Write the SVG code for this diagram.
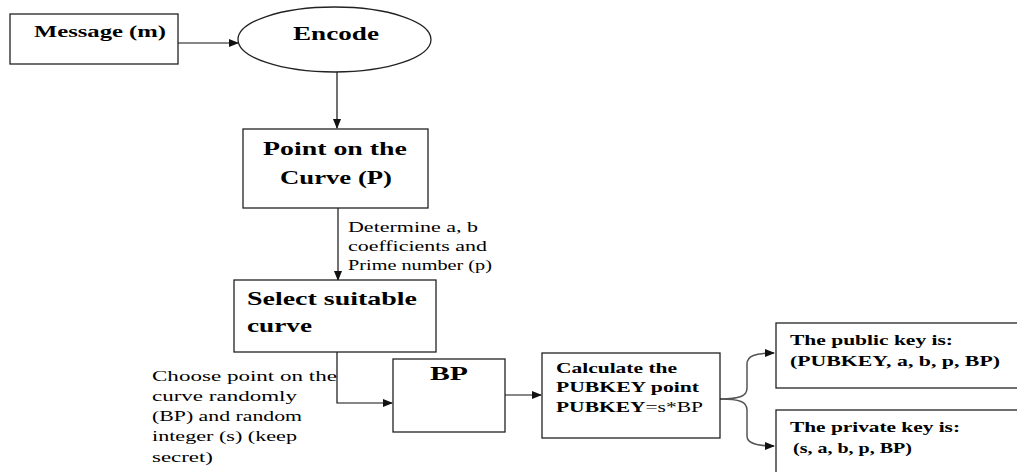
<svg xmlns="http://www.w3.org/2000/svg" width="1017" height="472" viewBox="0 0 1017 472">
<style>
.box{fill:#fff;stroke:#222;stroke-width:1.3}
text{font-family:'Liberation Serif','DejaVu Serif','Times New Roman',serif;fill:#000}
.b{font-weight:bold}
.big{font-size:19px}
.mid{font-size:15.5px}
.msg{font-size:16.5px}
.lab{font-size:15.5px}
.c{fill:none;stroke:#111;stroke-width:1.2}
.cg{fill:none;stroke:#555;stroke-width:1.5}
</style>
<defs>
<marker id="ah" markerWidth="10" markerHeight="8" refX="9" refY="4" orient="auto" markerUnits="userSpaceOnUse">
<path d="M0,0 L10,4 L0,8 Z" fill="#111"/>
</marker>
</defs>
<rect width="1017" height="472" fill="#fff"/>
<g id="connectors">
<line class="c" x1="178" y1="43" x2="238" y2="43" marker-end="url(#ah)"/>
<line class="c" x1="337" y1="72" x2="337" y2="128" marker-end="url(#ah)"/>
<line class="c" x1="338" y1="208" x2="338" y2="280" marker-end="url(#ah)"/>
<polyline class="c" points="337,352 337,403 392,403" marker-end="url(#ah)"/>
<line class="c" x1="505" y1="395" x2="541" y2="395" marker-end="url(#ah)"/>
<path class="cg" d="M720,399 C740,399 747,396 747,388 L747,364 C747,356 755,353 774,353" marker-end="url(#ah)"/>
<path class="cg" d="M720,399 C740,399 747,402 747,410 L747,436 C747,443 755,446 774,446" marker-end="url(#ah)"/>
<text class="lab" x="348" y="232" textLength="130" lengthAdjust="spacingAndGlyphs">Determine a, b</text>
<text class="lab" x="348" y="251" textLength="139" lengthAdjust="spacingAndGlyphs">coefficients and</text>
<text class="lab" x="348" y="270" textLength="144" lengthAdjust="spacingAndGlyphs">Prime number (p)</text>
<text class="lab" x="152" y="381" textLength="185" lengthAdjust="spacingAndGlyphs">Choose point on the</text>
<text class="lab" x="152" y="401" textLength="145" lengthAdjust="spacingAndGlyphs">curve randomly</text>
<text class="lab" x="152" y="421" textLength="150" lengthAdjust="spacingAndGlyphs">(BP) and random</text>
<text class="lab" x="152" y="441" textLength="145" lengthAdjust="spacingAndGlyphs">integer (s) (keep</text>
<text class="lab" x="152" y="462" textLength="61" lengthAdjust="spacingAndGlyphs">secret)</text>
</g>
<g id="message">
<rect class="box" x="10" y="14" width="168" height="50"/>
<text class="b msg" x="34" y="37" textLength="132" lengthAdjust="spacingAndGlyphs">Message (m)</text>
</g>
<g id="encode">
<ellipse class="box" cx="334.5" cy="39.5" rx="96.5" ry="32.5"/>
<text class="b big" x="293" y="40" textLength="86" lengthAdjust="spacingAndGlyphs">Encode</text>
</g>
<g id="point">
<rect class="box" x="243" y="129" width="185" height="79"/>
<text class="b big" x="263" y="155" textLength="144" lengthAdjust="spacingAndGlyphs">Point on the</text>
<text class="b big" x="280" y="184" textLength="112" lengthAdjust="spacingAndGlyphs">Curve (P)</text>
</g>
<g id="select">
<rect class="box" x="234" y="280" width="202" height="72"/>
<text class="b big" x="247" y="305" textLength="170" lengthAdjust="spacingAndGlyphs">Select suitable</text>
<text class="b big" x="247" y="332" textLength="65" lengthAdjust="spacingAndGlyphs">curve</text>
</g>
<g id="bp">
<rect class="box" x="393" y="359" width="112" height="73"/>
<text class="b big" x="430" y="380" textLength="38" lengthAdjust="spacingAndGlyphs">BP</text>
</g>
<g id="calculate">
<rect class="box" x="542" y="353" width="178" height="85"/>
<text class="b mid" x="556" y="373" textLength="121" lengthAdjust="spacingAndGlyphs">Calculate the</text>
<text class="b mid" x="556" y="392" textLength="143" lengthAdjust="spacingAndGlyphs">PUBKEY point</text>
<text class="mid" x="556" y="412" textLength="147" lengthAdjust="spacingAndGlyphs"><tspan font-weight="bold">PUBKEY</tspan>=s*BP</text>
</g>
<g id="public">
<rect class="box" x="776" y="323" width="260" height="65"/>
<text class="b mid" x="790" y="345" textLength="163" lengthAdjust="spacingAndGlyphs">The public key is:</text>
<text class="b mid" x="790" y="366" textLength="210" lengthAdjust="spacingAndGlyphs">(PUBKEY, a, b, p, BP)</text>
</g>
<g id="private">
<rect class="box" x="776" y="410" width="260" height="80"/>
<text class="b mid" x="790" y="432" textLength="170" lengthAdjust="spacingAndGlyphs">The private key is:</text>
<text class="b mid" x="793" y="453" textLength="119" lengthAdjust="spacingAndGlyphs">(s, a, b, p, BP)</text>
</g>
</svg>
